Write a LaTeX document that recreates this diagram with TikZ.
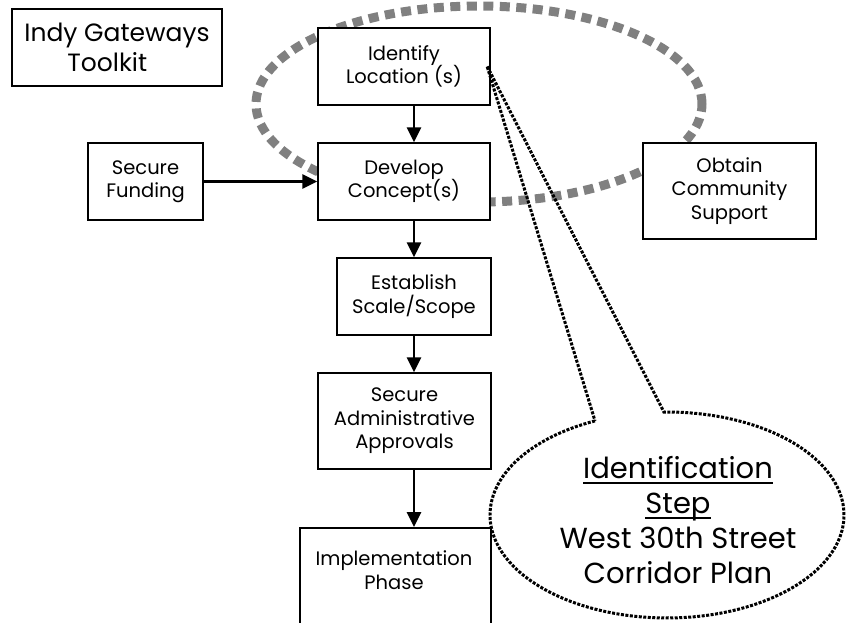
\documentclass[tikz,border=0pt]{standalone}
\usepackage{fontspec}
\setmainfont{Poppins}
\usetikzlibrary{arrows.meta,calc}
\newcommand\myul[1]{\setbox0\hbox{#1}\rlap{\rule[-5.5pt]{\wd0}{2pt}}\box0}
\begin{document}
\begin{tikzpicture}[x=1pt,y=-1pt,
  box/.style={draw=black, line width=1.5pt, fill=white, align=center, inner sep=0pt,
    font=\fontsize{19.5}{23.5}\selectfont},
  flow/.style={line width=2.8pt, -{Triangle[length=15pt,width=14pt]}},
  grayring/.style={draw={rgb,255:red,128;green,128;blue,128}, line width=9pt, dash pattern=on 10pt off 6.5pt},
  bubble/.style={draw=black, line width=3pt, dash pattern=on 3pt off 1.5pt}]
\clip (0,0) rectangle (846,622);
\fill[white] (0,0) rectangle (846,622);
% gray dashed ellipse
\draw[grayring] (479,104) ellipse [x radius=223pt, y radius=98pt];
% boxes
\node[box, minimum width=210pt, minimum height=77pt, align=left,
  font=\fontsize{25}{30}\selectfont] (indy) at (117,47.5) {Indy Gateways\\\hspace*{43pt}Toolkit};
\node[box, minimum width=172pt, minimum height=77pt] (ident) at (404,66.5) {Identify\\Location (s)};
\node[box, minimum width=172pt, minimum height=77pt] (dev) at (404,181.5) {Develop\\Concept(s)};
\node[box, minimum width=115pt, minimum height=77pt] (fund) at (145.5,181.5) {Secure\\Funding};
\node[box, minimum width=173pt, minimum height=96pt] (obtain) at (729.5,191) {Obtain\\Community\\Support};
\node[box, minimum width=154pt, minimum height=77pt] (est) at (414,296.5) {Establish\\Scale/Scope};
\node[box, minimum width=173pt, minimum height=96pt] (admin) at (404.5,421) {Secure\\Administrative\\Approvals};
\node[box, minimum width=191pt, minimum height=120pt, anchor=north] (impl) at (395.5,527) {};
\node[align=center, inner sep=0pt, font=\fontsize{19.5}{23.5}\selectfont] (impltext) at (394,570) {Implementation\\Phase};
% arrows
\draw[flow] (ident.south -| est.north) -- (dev.north -| est.north);
\draw[flow] (dev.south -| est.north) -- (est.north);
\draw[flow] (est.south) -- (admin.north -| est.south);
\draw[flow] (admin.south -| est.south) -- (impl.north -| est.south);
\draw[flow] (fund.east) -- (dev.west);
% callout
\coordinate (tip) at (487,66);
\draw[bubble] plot[domain=114:451, samples=160, variable=\t] ({667+177*cos(\t)},{515-103*sin(\t)}) -- (tip) -- cycle;
\node[align=center, inner sep=0pt, font=\fontsize{29}{35}\selectfont] (calltext) at (678,520)
  {\myul{Identification}\\\myul{Step}\\West 30th Street\\Corridor Plan};
\end{tikzpicture}
\end{document}
